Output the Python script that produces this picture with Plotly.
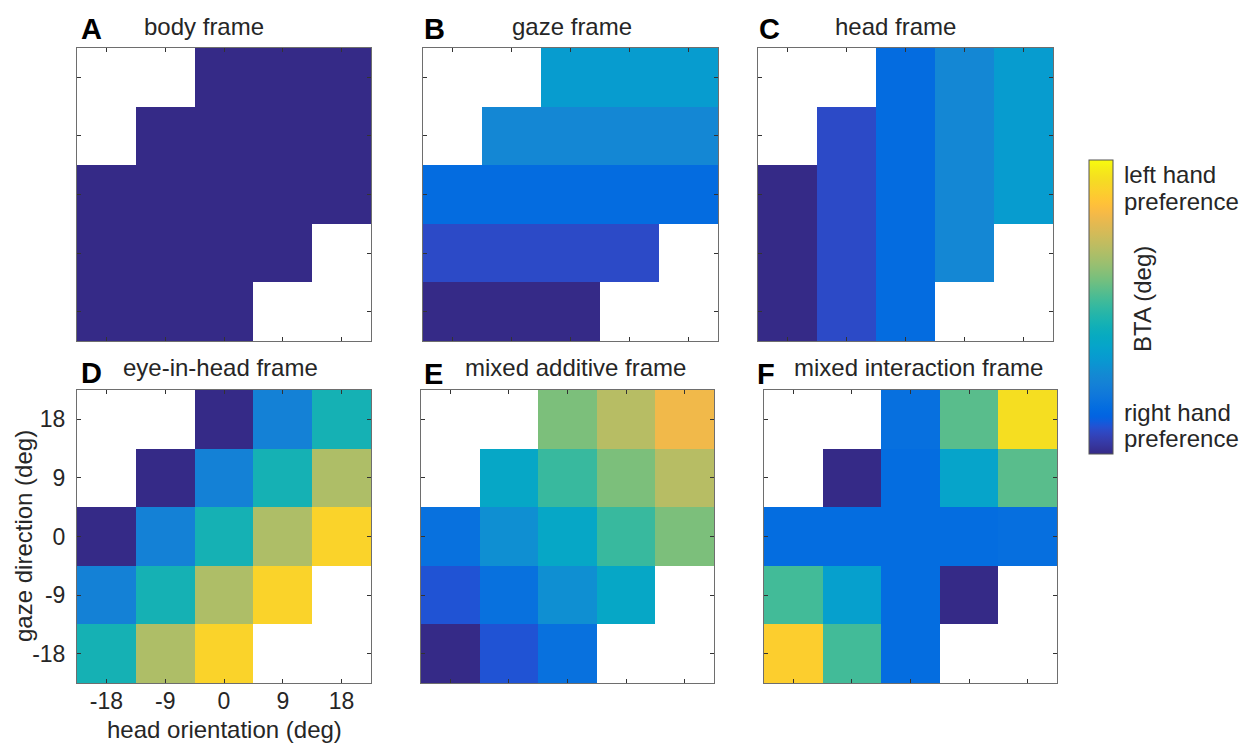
import plotly.graph_objects as go

# Grid: head orientation (columns) x gaze direction (rows, top to bottom)
head_orientation = [-18, -9, 0, 9, 18]
gaze_direction = [18, 9, 0, -9, -18]
tick_labels = ["-18", "-9", "0", "9", "18"]

N = None  # no data for this combination

# Normalised BTA (0 = right hand preference, 1 = left hand preference)
body_frame = [
    [N, N, 0.0, 0.0, 0.0],
    [N, 0.0, 0.0, 0.0, 0.0],
    [0.0, 0.0, 0.0, 0.0, 0.0],
    [0.0, 0.0, 0.0, 0.0, N],
    [0.0, 0.0, 0.0, N, N],
]
gaze_frame = [
    [N, N, 0.333, 0.333, 0.333],
    [N, 0.26, 0.26, 0.26, 0.26],
    [0.155, 0.155, 0.155, 0.155, 0.155],
    [0.079, 0.079, 0.079, 0.079, N],
    [0.0, 0.0, 0.0, N, N],
]
head_frame = [
    [N, N, 0.155, 0.26, 0.333],
    [N, 0.079, 0.155, 0.26, 0.333],
    [0.0, 0.079, 0.155, 0.26, 0.333],
    [0.0, 0.079, 0.155, 0.26, N],
    [0.0, 0.079, 0.155, N, N],
]
eye_in_head_frame = [
    [N, N, 0.0, 0.238, 0.444],
    [N, 0.0, 0.238, 0.444, 0.683],
    [0.0, 0.238, 0.444, 0.683, 0.905],
    [0.238, 0.444, 0.683, 0.905, N],
    [0.444, 0.683, 0.905, N, N],
]
mixed_additive_frame = [
    [N, N, 0.603, 0.698, 0.81],
    [N, 0.381, 0.508, 0.603, 0.698],
    [0.175, 0.29, 0.381, 0.508, 0.603],
    [0.095, 0.175, 0.29, 0.381, N],
    [0.0, 0.095, 0.175, N, N],
]
mixed_interaction_frame = [
    [N, N, 0.17, 0.556, 0.937],
    [N, 0.0, 0.16, 0.365, 0.556],
    [0.16, 0.16, 0.16, 0.16, 0.165],
    [0.524, 0.349, 0.16, 0.0, N],
    [0.889, 0.524, 0.16, N, N],
]

panel_letters = ["A", "B", "C", "D", "E", "F"]
panel_titles = ["body frame", "gaze frame", "head frame",
                "eye-in-head frame", "mixed additive frame", "mixed interaction frame"]
panel_data = [body_frame, gaze_frame, head_frame,
              eye_in_head_frame, mixed_additive_frame, mixed_interaction_frame]

# parula colour map
PARULA = [
    (0.2081, 0.1663, 0.5292), (0.2116, 0.1898, 0.5777), (0.2123, 0.2138, 0.6270),
    (0.2081, 0.2386, 0.6771), (0.1959, 0.2645, 0.7279), (0.1707, 0.2919, 0.7792),
    (0.1253, 0.3242, 0.8303), (0.0591, 0.3598, 0.8683), (0.0117, 0.3875, 0.8820),
    (0.0060, 0.4086, 0.8828), (0.0165, 0.4266, 0.8786), (0.0329, 0.4430, 0.8720),
    (0.0498, 0.4586, 0.8641), (0.0629, 0.4737, 0.8554), (0.0723, 0.4887, 0.8467),
    (0.0779, 0.5040, 0.8384), (0.0793, 0.5200, 0.8312), (0.0749, 0.5375, 0.8263),
    (0.0641, 0.5570, 0.8240), (0.0488, 0.5772, 0.8228), (0.0343, 0.5966, 0.8199),
    (0.0265, 0.6137, 0.8135), (0.0239, 0.6287, 0.8038), (0.0231, 0.6418, 0.7913),
    (0.0228, 0.6535, 0.7768), (0.0267, 0.6642, 0.7607), (0.0384, 0.6743, 0.7436),
    (0.0590, 0.6838, 0.7254), (0.0843, 0.6928, 0.7062), (0.1133, 0.7015, 0.6859),
    (0.1453, 0.7098, 0.6646), (0.1801, 0.7177, 0.6424), (0.2178, 0.7250, 0.6193),
    (0.2586, 0.7317, 0.5954), (0.3022, 0.7376, 0.5712), (0.3482, 0.7424, 0.5473),
    (0.3953, 0.7459, 0.5244), (0.4420, 0.7481, 0.5033), (0.4871, 0.7491, 0.4840),
    (0.5300, 0.7491, 0.4661), (0.5709, 0.7485, 0.4494), (0.6099, 0.7473, 0.4337),
    (0.6473, 0.7456, 0.4188), (0.6834, 0.7435, 0.4044), (0.7184, 0.7411, 0.3905),
    (0.7525, 0.7384, 0.3768), (0.7858, 0.7356, 0.3633), (0.8185, 0.7327, 0.3498),
    (0.8507, 0.7299, 0.3360), (0.8824, 0.7274, 0.3217), (0.9139, 0.7258, 0.3063),
    (0.9450, 0.7261, 0.2886), (0.9739, 0.7314, 0.2666), (0.9938, 0.7455, 0.2403),
    (0.9990, 0.7653, 0.2164), (0.9955, 0.7861, 0.1967), (0.9880, 0.8066, 0.1794),
    (0.9789, 0.8271, 0.1633), (0.9697, 0.8481, 0.1475), (0.9626, 0.8705, 0.1309),
    (0.9589, 0.8949, 0.1132), (0.9598, 0.9218, 0.0948), (0.9661, 0.9514, 0.0755),
    (0.9763, 0.9831, 0.0538),
]
colorscale = [
    [i / (len(PARULA) - 1), "rgb(%d,%d,%d)" % tuple(round(c * 255) for c in rgb)]
    for i, rgb in enumerate(PARULA)
]

W, H = 1239, 745
FONT = "Liberation Sans, Arial, Helvetica, sans-serif"
TEXT = "#262626"
FS = 24

# Plot boxes in pixels: (left, right, top, bottom)
boxes = [
    (77, 371, 48, 341), (423, 718, 48, 341), (758, 1053, 48, 341),
    (77, 371, 390, 683), (421, 714, 390, 683), (764, 1057, 390, 683),
]
title_pos = [(204, 26), (572, 26), (895, 26), (220, 367), (575, 367), (918, 367)]
letter_pos = [(91, 29), (434, 29), (769, 29), (91, 373), (433, 374), (766, 374)]


def fx(px):
    return px / W


def fy(py):
    return 1 - py / H


def label(text, x, y, size=FS, color=TEXT, xanchor="center", angle=0):
    return dict(
        text=text, x=fx(x), y=fy(y), xref="paper", yref="paper",
        xanchor=xanchor, yanchor="middle", showarrow=False, textangle=angle,
        font=dict(family=FONT, size=size, color=color),
    )


fig = go.Figure()
annotations = []
for i, (z, box) in enumerate(zip(panel_data, boxes)):
    n = "" if i == 0 else str(i + 1)
    fig.add_trace(go.Heatmap(
        z=z, x=head_orientation, y=gaze_direction, coloraxis="coloraxis",
        xaxis="x" + n, yaxis="y" + n, hoverongaps=False,
    ))
    l, r, t, b = box
    show = (i == 3)
    axis_common = dict(
        range=[-22.5, 22.5], tickvals=head_orientation, ticktext=tick_labels,
        ticks="inside", ticklen=4, tickwidth=1, tickcolor="#333333",
        showline=True, linecolor="#6e6e6e", linewidth=1, mirror="ticks",
        showgrid=False, zeroline=False, showticklabels=show,
        tickfont=dict(family=FONT, size=23, color=TEXT), fixedrange=True,
    )
    fig.update_layout(**{
        "xaxis" + n: dict(axis_common, domain=[fx(l), fx(r)], anchor="y" + n,
                          ticklabelstandoff=-3),
        "yaxis" + n: dict(axis_common, domain=[fy(b), fy(t)], anchor="x" + n,
                          ticklabelstandoff=6),
    })
    tx, ty = title_pos[i]
    annotations.append(label(panel_titles[i], tx, ty))
    lx, ly = letter_pos[i]
    annotations.append(label("<b>%s</b>" % panel_letters[i], lx, ly,
                             size=29, color="#000000"))

# Axis titles of the labelled panel
annotations.append(label("head orientation (deg)", 224, 729))
annotations.append(label("gaze direction (deg)", 23, 536, angle=-90))

# Colour bar labels
annotations.append(label("left hand", 1122, 174, xanchor="left"))
annotations.append(label("preference", 1122, 201, xanchor="left"))
annotations.append(label("right hand", 1122, 412, xanchor="left"))
annotations.append(label("preference", 1122, 439, xanchor="left"))
annotations.append(label("BTA (deg)", 1142, 299, angle=-90))

fig.update_layout(
    width=W, height=H, margin=dict(l=0, r=0, t=0, b=0),
    paper_bgcolor="white", plot_bgcolor="white",
    coloraxis=dict(
        colorscale=colorscale, cmin=0, cmax=1,
        colorbar=dict(
            x=fx(1089), xanchor="left", xpad=0, ypad=0,
            y=fy(307), yanchor="middle", len=294, lenmode="pixels",
            thickness=24, outlinewidth=1, outlinecolor="#555555",
            showticklabels=False, ticks="",
        ),
    ),
    annotations=annotations,
    font=dict(family=FONT, color=TEXT),
)

fig.write_html("out.html")
